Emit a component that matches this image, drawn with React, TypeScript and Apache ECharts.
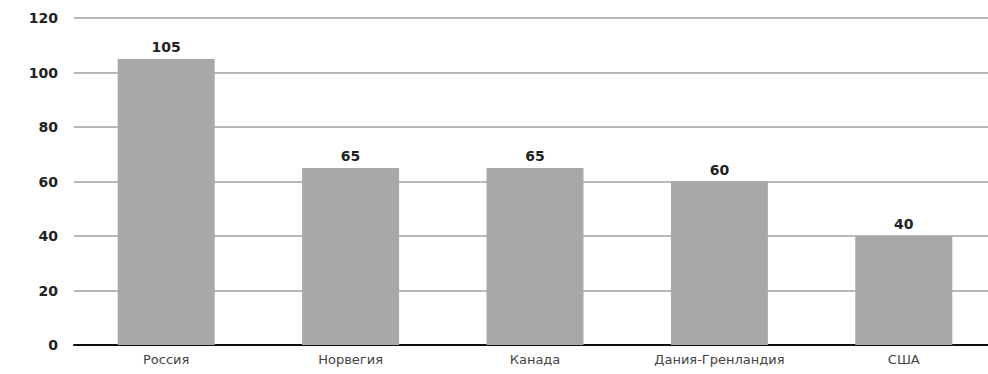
import React, { useEffect, useRef } from "react";
import * as echarts from "echarts";

const categories = ["Россия", "Норвегия", "Канада", "Дания-Гренландия", "США"];
const values = [105, 65, 65, 60, 40];
const yTicks = [0, 20, 40, 60, 80, 100, 120];

export default function App() {
  const ref = useRef<HTMLDivElement>(null);
  useEffect(() => {
    if (!ref.current) return;
    const chart = echarts.init(ref.current, null, { renderer: "svg" });
    chart.setOption({
      animation: false,
      backgroundColor: "#ffffff",
      grid: { left: 74, right: 0, top: 18, bottom: 29, containLabel: false },
      xAxis: {
        type: "category",
        data: categories,
        axisLine: { show: true, lineStyle: { color: "#111", width: 2 } },
        axisTick: { show: false },
        axisLabel: {
          color: "#444",
          fontSize: 13,
          fontFamily: "DejaVu Sans, sans-serif",
          margin: 8,
          interval: 0,
        },
      },
      yAxis: {
        type: "value",
        min: yTicks[0],
        max: yTicks[yTicks.length - 1],
        interval: 20,
        axisLine: { show: false },
        axisTick: { show: false },
        axisLabel: {
          color: "#222",
          fontSize: 14,
          fontWeight: "bold",
          fontFamily: "DejaVu Sans, sans-serif",
          margin: 16,
        },
        splitLine: { lineStyle: { color: "#a0a0a0", width: 1.5 } },
      },
      series: [
        {
          type: "bar",
          data: values,
          barWidth: 97,
          itemStyle: { color: "#a8a8a8" },
          label: {
            show: true,
            position: "top",
            color: "#222",
            fontSize: 14,
            fontWeight: "bold",
            fontFamily: "DejaVu Sans, sans-serif",
            distance: 5,
          },
        },
      ],
    });
    return () => chart.dispose();
  }, []);
  return (
    <div style={{ position: "fixed", left: 0, top: 0, width: 988, height: 374, overflow: "hidden" }}>
      <div ref={ref} style={{ width: 996, height: 374 }} />
    </div>
  );
}
